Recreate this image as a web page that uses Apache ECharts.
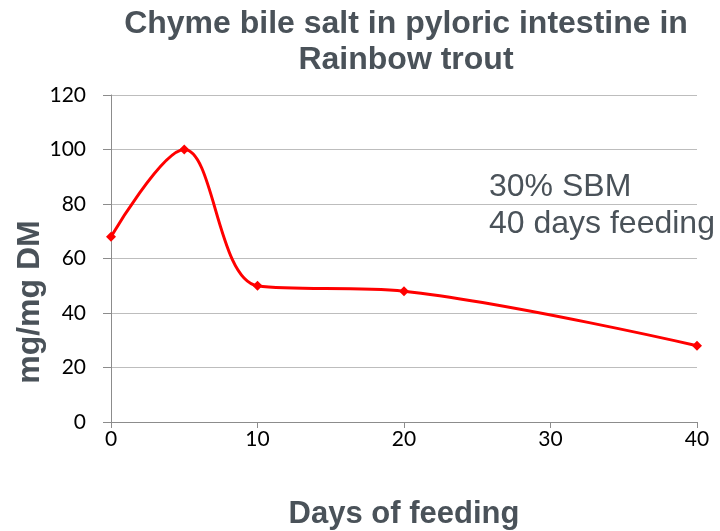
<!DOCTYPE html>
<html>
<head>
<meta charset="utf-8">
<script src="https://cdn.jsdelivr.net/npm/echarts@6/dist/echarts.min.js"></script>
<style>
  html, body { margin: 0; padding: 0; background: #fff; }
  #chart { width: 720px; height: 531px; }
</style>
</head>
<body>
<div id="chart"></div>
<script>
// days of feeding and chyme bile salt (mg/mg DM)
const days = [0, 5, 10, 20, 40];
const bileSalt = [68, 100, 50, 48, 28];
const yTicks = [0, 20, 40, 60, 80, 100, 120];
const xTicks = [0, 10, 20, 30, 40];

const chart = echarts.init(document.getElementById("chart"));

const option = {
    animation: false,
    title: {
        text: "Chyme bile salt in pyloric intestine in\nRainbow trout",
        left: 401,
        textAlign: "center",
        top: 1,
        textStyle: {
            fontFamily: "Liberation Sans",
            fontSize: 32,
            fontWeight: "bold",
            color: "#4a5259",
            lineHeight: 36
        }
    },
    grid: { left: 111, right: 23, top: 95, bottom: 109, outerBoundsMode: "none" },
    xAxis: {
        type: "value",
        min: xTicks[0],
        max: xTicks[xTicks.length - 1],
        interval: 10,
        name: "Days of feeding",
        nameLocation: "middle",
        nameGap: 77,
        nameTextStyle: {
            fontFamily: "Liberation Sans",
            fontSize: 31,
            fontWeight: "bold",
            color: "#4a5259"
        },
        axisLine: { lineStyle: { color: "#8c8c8c", width: 1 } },
        axisTick: { show: true, length: 6, lineStyle: { color: "#8c8c8c" } },
        axisLabel: { fontFamily: "Lato", fontSize: 21, color: "#000", margin: 7 },
        splitLine: { show: false }
    },
    yAxis: {
        type: "value",
        min: yTicks[0],
        max: yTicks[yTicks.length - 1],
        interval: 20,
        axisLine: { show: true, lineStyle: { color: "#8c8c8c", width: 1 } },
        axisTick: { show: true, length: 8, lineStyle: { color: "#8c8c8c" } },
        axisLabel: { fontFamily: "Lato", fontSize: 21, color: "#000", margin: 25 },
        splitLine: { show: true, lineStyle: { color: "#bdbdbd", width: 1 } }
    },
    series: [
        {
            type: "line",
            data: days.map((d, i) => [d, bileSalt[i]]),
            smooth: 0.35,
            symbol: "diamond",
            symbolSize: 10,
            lineStyle: { color: "#ff0000", width: 3 },
            itemStyle: { color: "#ff0000" }
        }
    ],
    graphic: [
        {
            // y axis title sits lower than the plot centre in the original
            type: "text",
            x: 30,
            y: 302,
            rotation: Math.PI / 2,
            style: {
                text: "mg/mg DM",
                fontFamily: "Liberation Sans",
                fontSize: 32,
                fontWeight: "bold",
                fill: "#4a5259",
                align: "center",
                verticalAlign: "middle"
            }
        },
        {
            type: "text",
            left: 489,
            top: 169,
            style: {
                text: "30% SBM\n40 days feeding",
                fontFamily: "Liberation Sans",
                fontSize: 32,
                lineHeight: 37,
                fill: "#4a5259"
            }
        }
    ]
};
chart.setOption(option);
</script>
</body>
</html>
